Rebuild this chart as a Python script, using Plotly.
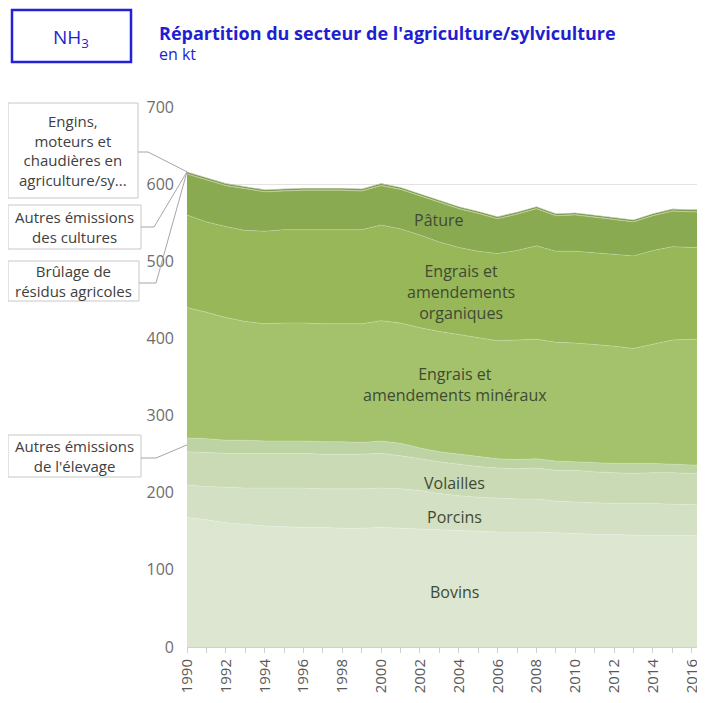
import plotly.graph_objects as go

years = list(range(1990, 2018))

bovins = [168, 165, 161, 159, 157, 156, 155, 155, 154, 154, 155, 154, 153, 152,
          151, 150, 149, 149, 149, 148, 147, 146, 146, 145, 145, 145, 145, 144]
porcins = [42, 43, 46, 47, 49, 50, 51, 50, 51, 51, 51, 51, 50, 47,
           45, 44, 44, 43, 43, 41, 41, 41, 40, 41, 41, 40, 39, 40]
volailles = [43, 44, 44, 45, 45, 45, 45, 45, 45, 45, 45, 43, 41, 41,
             41, 40, 39, 39, 40, 40, 41, 40, 40, 39, 40, 41, 41, 40]
autres_elevage = [18, 18, 17, 17, 16, 16, 16, 16, 16, 15, 16, 16, 14, 13,
                  13, 13, 12, 12, 12, 12, 11, 12, 12, 13, 12, 11, 11, 11]
mineraux = [169, 164, 159, 154, 152, 153, 153, 153, 153, 154, 156, 156, 156, 156,
            155, 154, 153, 155, 155, 154, 154, 153, 152, 149, 155, 161, 163, 164]
organiques = [120, 117, 118, 118, 120, 121, 121, 122, 122, 122, 124, 122, 120, 116,
              113, 112, 113, 116, 121, 118, 119, 119, 119, 120, 121, 121, 119, 119]
pature = [53, 54, 53, 54, 51, 50, 51, 51, 51, 50, 51, 51, 51, 51,
          50, 49, 45, 47, 48, 46, 47, 46, 45, 44, 45, 46, 46, 46]
brulage = [0.6, 0.6, 0.6, 0.6, 0.6, 0.6, 0.6, 0.6, 0.6, 0.6, 0.6, 0.6, 0.6, 0.6,
           0.6, 0.6, 0.6, 0.6, 0.6, 0.6, 0.6, 0.6, 0.6, 0.6, 0.6, 0.6, 0.6, 0.6]
autres_cultures = [2.0, 2.0, 2.0, 2.0, 2.0, 2.0, 2.0, 2.0, 2.0, 2.0, 2.0, 2.0, 2.0, 2.0,
                   2.0, 2.0, 2.0, 2.0, 2.0, 2.0, 2.0, 2.0, 2.0, 2.0, 2.0, 2.0, 2.0, 2.0]
engins = [0.4, 0.4, 0.4, 0.4, 0.4, 0.4, 0.4, 0.4, 0.4, 0.4, 0.4, 0.4, 0.4, 0.4,
          0.4, 0.4, 0.4, 0.4, 0.4, 0.4, 0.4, 0.4, 0.4, 0.4, 0.4, 0.4, 0.4, 0.4]

series_names = ["Bovins", "Porcins", "Volailles", "Autres émissions de l'élevage",
                "Engrais et amendements minéraux", "Engrais et amendements organiques",
                "Pâture", "Brûlage de résidus agricoles", "Autres émissions des cultures",
                "Engins, moteurs et chaudières en agriculture/sylviculture"]
series_values = [bovins, porcins, volailles, autres_elevage, mineraux, organiques,
                 pature, brulage, autres_cultures, engins]
colors = ["#dce6d0", "#d3e0c4", "#c9dab5", "#bdd3a3", "#a4c26c", "#97b759",
          "#8aaa52", "#7f9e48", "#76953f", "#6d8a38"]

x_ticks = list(range(1990, 2017, 2))
y_ticks = [0, 100, 200, 300, 400, 500, 600, 700]

# page body adds an 8px offset; figure is sized to compensate
OFF = 8
W, H = 705 - OFF, 703 - OFF
L, R, T, B = 187 - OFF, 0, 107 - OFF, 56
PW, PH = W - L - R, H - T - B
X_RANGE = [1990, 2016.68]
Y_RANGE = [0, 700]


def px(x):
    # x in reference-picture pixels -> paper fraction
    return (x - OFF - L) / PW


def py(y):
    return (H - B - (y - OFF)) / PH


fig = go.Figure()
for name, vals, col in zip(series_names, series_values, colors):
    fig.add_trace(go.Scatter(
        x=years, y=vals, name=name, stackgroup="one", mode="lines",
        line=dict(width=0.6, color="rgba(255,255,255,0.35)"),
        fillcolor=col, showlegend=False, hoverinfo="x+y+name"))

FONT = "Open Sans"
label_color = "#3f4a33"

shapes = []
annotations = []

inner = [
    ("Pâture", 2003.0, 553),
    ("Engrais et<br>amendements<br>organiques", 2004.1, 460),
    ("Engrais et<br>amendements minéraux", 2003.8, 340),
    ("Volailles", 2003.8, 212),
    ("Porcins", 2003.8, 168),
    ("Bovins", 2003.8, 71),
]
for txt, xv, yv in inner:
    annotations.append(dict(x=xv, y=yv, xref="x", yref="y", text=txt, showarrow=False,
                            xanchor="center", yanchor="middle",
                            font=dict(family=FONT, size=16, color=label_color),
                            align="center"))

cum = []
s = 0
for v in series_values:
    cum.append((s, s + v[0]))
    s += v[0]

boxes = [
    ("Engins,<br>moteurs et<br>chaudières en<br>agriculture/sy...", 8, 103, 138, 198, 152, 148, 9),
    ("Autres émissions<br>des cultures", 8, 205, 141, 249, 227, 154, 8),
    ("Brûlage de<br>résidus agricoles", 8, 261, 139, 301, 283, 156, 7),
    ("Autres émissions<br>de l'élevage", 8, 435, 141, 477, 458, 156, 3),
]
for txt, x0, y0, x1, y1, ly, lx, idx in boxes:
    shapes.append(dict(type="rect", xref="paper", yref="paper",
                       x0=px(x0), x1=px(x1), y0=py(y1), y1=py(y0),
                       line=dict(color="#c8c8c8", width=1), fillcolor="white", layer="above"))
    annotations.append(dict(x=px((x0 + x1) / 2), y=py((y0 + y1) / 2), xref="paper", yref="paper",
                            xanchor="center", yanchor="middle",
                            text=txt, showarrow=False, align="center",
                            font=dict(family=FONT, size=15, color="#404040")))
    lo, hi = cum[idx]
    yend = (lo + hi) / 2 / Y_RANGE[1]
    if idx >= 7:
        yend = s / Y_RANGE[1]
    shapes.append(dict(type="path", xref="paper", yref="paper",
                       path=f"M {px(x1)},{py(ly)} L {px(lx)},{py(ly)} L 0,{yend}",
                       line=dict(color="#a6a6a6", width=1), layer="above"))

shapes.append(dict(type="rect", xref="paper", yref="paper",
                   x0=px(12), x1=px(131), y0=py(62), y1=py(10),
                   line=dict(color="#2323d6", width=2.5), fillcolor="white"))
annotations.append(dict(x=px(71), y=py(38), xref="paper", yref="paper",
                        xanchor="center", yanchor="middle",
                        text="NH<sub>3</sub>", showarrow=False,
                        font=dict(family=FONT, size=19, color="#1f1fcf")))
annotations.append(dict(x=px(157), y=py(33), xref="paper", yref="paper", xanchor="left",
                        yanchor="middle",
                        text="<b>Répartition du secteur de l'agriculture/sylviculture</b>",
                        showarrow=False, font=dict(family=FONT, size=18, color="#1f1fcf")))
annotations.append(dict(x=px(157), y=py(54), xref="paper", yref="paper", xanchor="left",
                        yanchor="middle", text="en kt",
                        showarrow=False, font=dict(family=FONT, size=16, color="#1f1fcf")))

fig.update_layout(
    width=W, height=H,
    margin=dict(l=L, r=R, t=T, b=B, pad=0),
    paper_bgcolor="white", plot_bgcolor="white",
    shapes=shapes, annotations=annotations,
    showlegend=False,
    xaxis=dict(range=X_RANGE, tickvals=x_ticks, ticktext=[str(v) for v in x_ticks],
               tickangle=-90, ticks="outside", ticklen=5, tickcolor="#d0d0d0",
               minor=dict(dtick=1, tick0=1990, ticks="outside", ticklen=5, tickcolor="#d0d0d0"),
               showline=True, linecolor="#d0d0d0", showgrid=False, zeroline=False,
               tickfont=dict(family=FONT, size=15, color="#595959"), fixedrange=True),
    yaxis=dict(range=Y_RANGE, tickvals=y_ticks, showgrid=True, gridcolor="#e3e3e3",
               zeroline=False, showline=False, ticks="", ticklabelstandoff=12,
               tickfont=dict(family=FONT, size=16, color="#6e6e6e"), fixedrange=True),
)

fig.write_html("out.html")
